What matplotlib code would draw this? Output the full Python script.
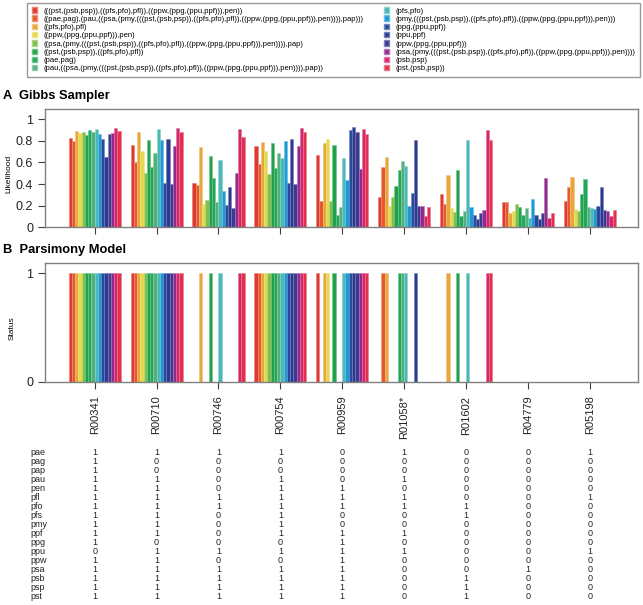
import matplotlib
matplotlib.use("Agg")
import matplotlib.pyplot as plt
import matplotlib.transforms as transforms
from matplotlib.patches import Patch
import numpy as np

plt.rcParams['font.family'] = ['Liberation Sans', 'DejaVu Sans']

reactions = ["R00341", "R00710", "R00746", "R00754", "R00959", "R01058*", "R01602", "R04779", "R05198"]

clades = [
    "(((pst,(psb,psp)),((pfs,pfo),pfl)),((ppw,(ppg,(ppu,ppf))),pen))",
    "((pae,pag),(pau,((psa,(pmy,(((pst,(psb,psp)),((pfs,pfo),pfl)),((ppw,(ppg,(ppu,ppf))),pen)))),pap)))",
    "((pfs,pfo),pfl)",
    "((ppw,(ppg,(ppu,ppf))),pen)",
    "((psa,(pmy,(((pst,(psb,psp)),((pfs,pfo),pfl)),((ppw,(ppg,(ppu,ppf))),pen)))),pap)",
    "((pst,(psb,psp)),((pfs,pfo),pfl))",
    "(pae,pag)",
    "(pau,((psa,(pmy,(((pst,(psb,psp)),((pfs,pfo),pfl)),((ppw,(ppg,(ppu,ppf))),pen)))),pap))",
    "(pfs,pfo)",
    "(pmy,(((pst,(psb,psp)),((pfs,pfo),pfl)),((ppw,(ppg,(ppu,ppf))),pen)))",
    "(ppg,(ppu,ppf))",
    "(ppu,ppf)",
    "(ppw,(ppg,(ppu,ppf)))",
    "(psa,(pmy,(((pst,(psb,psp)),((pfs,pfo),pfl)),((ppw,(ppg,(ppu,ppf))),pen))))",
    "(psb,psp)",
    "(pst,(psb,psp))",
]

colors = ["#e03a30", "#e45a2c", "#e8a53a", "#e3d94a", "#82bf4a", "#22a04a",
          "#1fa85a", "#54b07a", "#4ab9b5", "#1a9ad6", "#274a9a", "#2b3990",
          "#3b3a8e", "#8e2b8b", "#d6246e", "#e0304e"]

# Gibbs sampler likelihood, one list per reaction (16 clades each)
gibbs = [
    [0.83, 0.80, 0.89, 0.87, 0.88, 0.85, 0.90, 0.88, 0.91, 0.86, 0.82, 0.65, 0.86, 0.87, 0.92, 0.89],
    [0.76, 0.60, 0.88, 0.71, 0.50, 0.81, 0.56, 0.69, 0.91, 0.81, 0.41, 0.82, 0.40, 0.75, 0.92, 0.88],
    [0.41, 0.39, 0.74, 0.22, 0.25, 0.66, 0.46, 0.23, 0.62, 0.34, 0.21, 0.37, 0.18, 0.50, 0.91, 0.84],
    [0.75, 0.59, 0.79, 0.71, 0.49, 0.78, 0.55, 0.69, 0.64, 0.80, 0.41, 0.82, 0.40, 0.75, 0.92, 0.88],
    [0.67, 0.24, 0.78, 0.82, 0.24, 0.76, 0.11, 0.19, 0.64, 0.44, 0.90, 0.93, 0.88, 0.54, 0.91, 0.86],
    [0.28, 0.56, 0.65, 0.20, 0.28, 0.38, 0.53, 0.61, 0.57, 0.20, 0.32, 0.81, 0.20, 0.20, 0.10, 0.19],
    [0.31, 0.22, 0.48, 0.18, 0.14, 0.53, 0.10, 0.15, 0.81, 0.19, 0.11, 0.08, 0.13, 0.16, 0.90, 0.81],
    [0.23, 0.23, 0.13, 0.15, 0.22, 0.19, 0.11, 0.18, 0.09, 0.26, 0.11, 0.08, 0.13, 0.46, 0.09, 0.13],
    [0.24, 0.37, 0.47, 0.17, 0.15, 0.31, 0.45, 0.19, 0.18, 0.17, 0.20, 0.37, 0.16, 0.15, 0.10, 0.16],
]

# parsimony model status (1 = present)
parsimony = [
    [1, 1, 1, 1, 1, 1, 1, 1, 1, 1, 1, 1, 1, 1, 1, 1],
    [1, 1, 1, 1, 1, 1, 1, 1, 1, 1, 1, 1, 1, 1, 1, 1],
    [0, 0, 1, 0, 0, 1, 0, 0, 1, 0, 0, 0, 0, 0, 1, 1],
    [1, 1, 1, 1, 1, 1, 1, 1, 1, 1, 1, 1, 1, 1, 1, 1],
    [1, 0, 1, 1, 0, 1, 0, 0, 1, 1, 1, 1, 1, 1, 1, 1],
    [0, 1, 1, 0, 0, 0, 1, 1, 1, 0, 0, 1, 0, 0, 0, 0],
    [0, 0, 1, 0, 0, 1, 0, 0, 1, 0, 0, 0, 0, 0, 1, 1],
    [0, 0, 0, 0, 0, 0, 0, 0, 0, 0, 0, 0, 0, 0, 0, 0],
    [0, 0, 0, 0, 0, 0, 0, 0, 0, 0, 0, 0, 0, 0, 0, 0],
]

species = ["pae", "pag", "pap", "pau", "pen", "pfl", "pfo", "pfs", "pmy",
           "ppf", "ppg", "ppu", "ppw", "psa", "psb", "psp", "pst"]

# presence per species, columns follow reactions
presence = [
    [1, 1, 1, 1, 0, 1, 0, 0, 1],
    [1, 0, 0, 0, 0, 0, 0, 0, 0],
    [1, 0, 0, 0, 0, 0, 0, 0, 0],
    [1, 1, 0, 1, 0, 1, 0, 0, 0],
    [1, 1, 0, 1, 1, 0, 0, 0, 0],
    [1, 1, 1, 1, 1, 1, 0, 0, 1],
    [1, 1, 1, 1, 1, 1, 1, 0, 0],
    [1, 1, 0, 1, 0, 0, 1, 0, 0],
    [1, 1, 0, 1, 0, 0, 0, 0, 0],
    [1, 1, 0, 1, 1, 1, 0, 0, 0],
    [1, 0, 0, 0, 1, 0, 0, 0, 0],
    [0, 1, 1, 1, 1, 1, 0, 0, 1],
    [1, 1, 0, 0, 1, 0, 0, 0, 0],
    [1, 1, 1, 1, 1, 0, 0, 1, 0],
    [1, 1, 1, 1, 1, 0, 1, 0, 0],
    [1, 1, 1, 1, 1, 0, 1, 0, 0],
    [1, 1, 1, 1, 1, 0, 1, 0, 0],
]

W, H = 643, 605
nGroups = len(reactions)
nBars = len(clades)
groupStep = nBars + 3


def lighten(c, amt=0.35):
    rgb = np.array(matplotlib.colors.to_rgb(c))
    return tuple(rgb + (1 - rgb) * amt)


def drawBars(ax, values):
    for i in range(nBars):
        xs = [g * groupStep + 3 + i + 0.5 for g in range(nGroups)]
        ys = [values[g][i] for g in range(nGroups)]
        ax.bar(xs, ys, width=1.0, color=colors[i], edgecolor=lighten(colors[i]), linewidth=0.4)
    centers = [g * groupStep + 3 + nBars / 2 for g in range(nGroups)]
    ax.set_xlim(-4.25, (nGroups - 1) * groupStep + 11 + 14.8)
    ax.set_ylim(0, 1.095)
    ax.set_xticks(centers)
    for s in ax.spines.values():
        s.set_color("#808080")
        s.set_linewidth(1.0)
    ax.tick_params(axis="both", colors="#404040", labelcolor="#222222", length=5, width=0.8, labelsize=9)
    return centers


fig = plt.figure(figsize=(W / 100, H / 100), dpi=100)

def axRect(left, top, right, bottom):
    return [left / W, 1 - bottom / H, (right - left) / W, (bottom - top) / H]

axA = fig.add_axes(axRect(45, 109, 638, 227.3))
axB = fig.add_axes(axRect(45, 262.7, 638, 381.7))

centers = drawBars(axA, gibbs)
axA.set_xticklabels([])
axA.set_yticks([0, 0.2, 0.4, 0.6, 0.8, 1])
axA.set_yticklabels(["0", "0.2", "0.4", "0.6", "0.8", "1"])
axA.set_ylabel("Likelihood", fontsize=6)
axA.yaxis.set_label_coords(-0.055, 0.45)

drawBars(axB, parsimony)
axB.set_yticks([0, 1])
axB.set_yticklabels(["0", "1"])
axB.set_xticklabels(reactions, rotation=90, fontsize=8, va="top")
axB.tick_params(axis="x", pad=5)
axB.set_ylabel("Status", fontsize=6)
axB.yaxis.set_label_coords(-0.05, 0.45)

fig.text(3 / W, 1 - 96 / H, "A  Gibbs Sampler", fontsize=9.3, fontweight="bold", va="center")
fig.text(3 / W, 1 - 250 / H, "B  Parsimony Model", fontsize=9.3, fontweight="bold", va="center")

# presence table under panel B
tr = transforms.blended_transform_factory(axB.transData, fig.transFigure)
for r in range(len(species)):
    y = 1 - (452.7 + r * 9.0) / H
    fig.text(30 / W, y, species[r], fontsize=6.5, va="center", ha="left", color="#222222")
    for g in range(nGroups):
        axB.text(centers[g], y, str(presence[r][g]), transform=tr, fontsize=6.5,
                 ha="center", va="center", color="#222222", clip_on=False)

handles = [Patch(facecolor=colors[i], edgecolor=lighten(colors[i])) for i in range(nBars)]
leg = fig.legend(handles, clades, loc="lower left", ncol=2, mode="expand",
                 bbox_to_anchor=(27 / W, 1 - 77 / H, 613 / W, 74 / H),
                 fontsize=5.5, handlelength=0.7, handleheight=0.7, handletextpad=0.8,
                 labelspacing=0.12, borderpad=0.6, fancybox=False, borderaxespad=0)
leg.get_frame().set_edgecolor("#808080")
leg.get_frame().set_linewidth(1.0)

fig.savefig("out.png", dpi=100)
